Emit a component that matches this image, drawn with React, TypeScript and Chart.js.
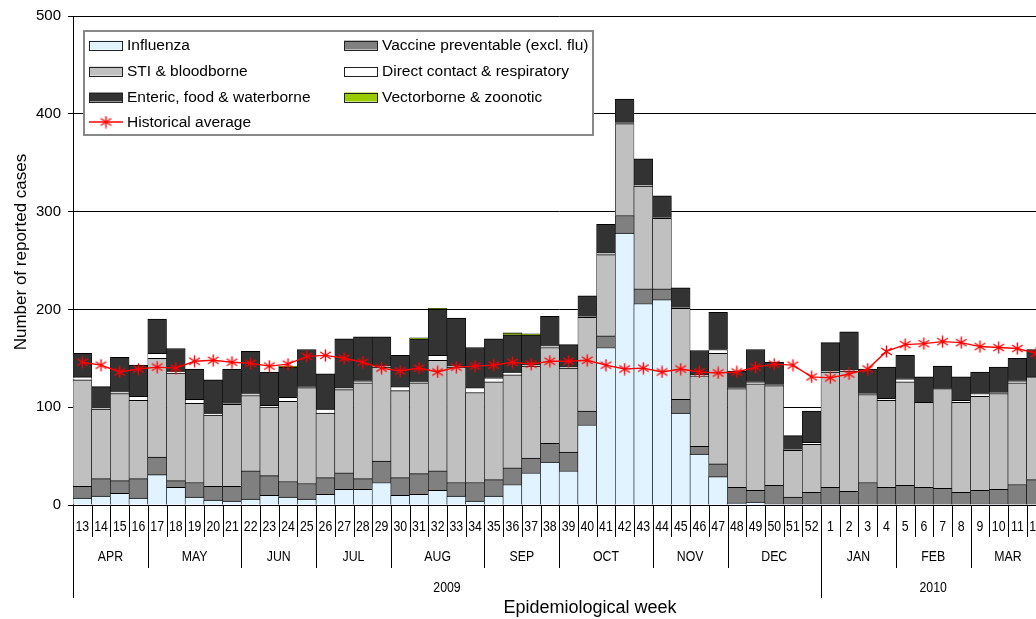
import React, { useEffect, useRef } from 'react';
import { Chart, registerables } from 'chart.js';

Chart.register(...registerables);

// ---------- data ----------
const weekLabels = [
  '13', '14', '15', '16', '17', '18', '19', '20', '21', '22', '23', '24', '25', '26', '27', '28', '29', '30',
  '31', '32', '33', '34', '35', '36', '37', '38', '39', '40', '41', '42', '43', '44', '45', '46', '47', '48',
  '49', '50', '51', '52', '1', '2', '3', '4', '5', '6', '7', '8', '9', '10', '11', '12',
];

const influenza = [
  7, 9, 12, 7, 31, 18, 8, 5, 4, 6, 10, 8, 6, 11, 16, 16, 23, 10,
  11, 15, 9, 4, 9, 21, 33, 44, 35, 82, 161, 278, 206, 210, 94, 52, 29, 2,
  3, 1, 1, 1, 1, 1, 0, 0, 0, 0, 0, 0, 1, 1, 0, 0,
];
const vaccinePreventable = [
  12, 18, 13, 20, 18, 7, 15, 14, 15, 29, 20, 16, 16, 17, 17, 11, 22, 18,
  21, 20, 14, 19, 17, 17, 15, 19, 19, 14, 12, 18, 15, 11, 14, 8, 13, 16,
  12, 19, 7, 12, 17, 13, 23, 18, 20, 18, 17, 13, 14, 15, 21, 26,
];
const stiBloodborne = [
  109, 71, 89, 80, 101, 110, 81, 73, 84, 77, 70, 82, 98, 66, 85, 98, 96, 89,
  93, 113, 118, 92, 100, 95, 94, 98, 86, 96, 83, 94, 105, 72, 93, 72, 113, 101,
  109, 102, 48, 49, 118, 123, 90, 89, 106, 87, 102, 92, 96, 98, 104, 105,
];
const directContact = [
  3, 1, 2, 4, 5, 2, 4, 2, 1, 2, 2, 4, 1, 4, 2, 2, 1, 4,
  1, 5, 1, 5, 4, 3, 1, 2, 1, 1, 2, 1, 1, 1, 1, 1, 4, 1,
  2, 1, 1, 2, 1, 1, 1, 2, 3, 0, 0, 2, 3, 1, 2, 0,
];
const enteric = [
  24, 22, 35, 32, 35, 23, 31, 34, 35, 43, 34, 31, 38, 36, 50, 45, 30, 32,
  44, 47, 49, 41, 40, 38, 31, 30, 23, 21, 29, 24, 27, 22, 20, 25, 38, 17,
  33, 23, 14, 32, 29, 39, 25, 32, 24, 26, 23, 24, 22, 26, 23, 28,
];
const vectorborne = [
  0, 0, 0, 0, 0, 0, 0, 0, 0, 0, 0, 1, 0, 0, 0, 0, 0, 0,
  1, 1, 0, 0, 0, 2, 1, 0, 0, 0, 0, 0, 0, 0, 0, 0, 0, 0,
  0, 0, 0, 0, 0, 0, 0, 0, 0, 0, 0, 0, 0, 0, 0, 0,
];
const historicalAverage = [
  146, 143, 136, 139, 141, 140, 147, 148, 146, 145, 142, 144, 152, 153, 150, 146, 140, 137,
  140, 136, 141, 142, 143, 146, 144, 147, 147, 148, 143, 139, 140, 136, 139, 136, 135, 136,
  141, 144, 143, 131, 130, 134, 139, 157, 164, 165, 167, 166, 162, 161, 160, 155,
];

const monthLabels = ['APR', 'MAY', 'JUN', 'JUL', 'AUG', 'SEP', 'OCT', 'NOV', 'DEC', 'JAN', 'FEB', 'MAR'];
const monthSpans = [4, 5, 4, 4, 5, 4, 5, 4, 5, 4, 4, 4];
const yearLabels = ['2009', '2010'];
const yearSpans = [40, 12];

const seriesNames = [
  'Influenza',
  'Vaccine preventable (excl. flu)',
  'STI & bloodborne',
  'Direct contact & respiratory',
  'Enteric, food & waterborne',
  'Vectorborne & zoonotic',
];
const seriesColors = ['#E0F3FF', '#808080', '#C0C0C0', '#FFFFFF', '#333333', '#99CC00'];
const lineName = 'Historical average';

const yAxisTitle = 'Number of reported cases';
const xAxisTitle = 'Epidemiological week';

const FONT = '"Liberation Sans", Arial, sans-serif';

function makeAsterisk(): HTMLCanvasElement {
  const c = document.createElement('canvas');
  c.width = 13;
  c.height = 13;
  const g = c.getContext('2d')!;
  g.strokeStyle = '#ff0000';
  g.lineWidth = 1.4;
  g.beginPath();
  g.moveTo(6.5, 0.5);
  g.lineTo(6.5, 12.5);
  g.moveTo(1.2, 3.0);
  g.lineTo(11.8, 10.0);
  g.moveTo(1.2, 10.0);
  g.lineTo(11.8, 3.0);
  g.stroke();
  return c;
}

const decorPlugin = {
  id: 'decor',
  afterDraw(chart: any) {
    const ctx: CanvasRenderingContext2D = chart.ctx;
    const xs = chart.scales.x;
    const area = chart.chartArea;
    const n = weekLabels.length;
    const slot = xs.getPixelForValue(1) - xs.getPixelForValue(0);
    const edge = (i: number) => xs.getPixelForValue(0) - slot / 2 + i * slot;
    const y0 = area.bottom;
    const vline = (x: number, ya: number, yb: number) => {
      const px = Math.round(x) + 0.5;
      ctx.beginPath();
      ctx.moveTo(px, ya);
      ctx.lineTo(px, yb);
      ctx.stroke();
    };

    ctx.save();
    ctx.strokeStyle = '#000';
    ctx.lineWidth = 1;
    ctx.fillStyle = '#000';

    // week separators and labels
    for (let i = 0; i <= n; i++) vline(edge(i), y0, 537);
    ctx.font = `15px ${FONT}`;
    ctx.textAlign = 'center';
    ctx.textBaseline = 'middle';
    weekLabels.forEach((lab, i) => {
      const cx = edge(i) + slot / 2;
      ctx.save();
      ctx.translate(cx, 527);
      ctx.scale(0.82, 1);
      ctx.fillText(lab, 0, 0);
      ctx.restore();
    });

    // month separators and labels
    let idx = 0;
    vline(edge(0), y0, 568);
    monthSpans.forEach((span, k) => {
      const a = edge(idx);
      const b = edge(idx + span);
      vline(b, y0, 568);
      ctx.save();
      ctx.translate((a + b) / 2, 557);
      ctx.scale(0.82, 1);
      ctx.fillText(monthLabels[k], 0, 0);
      ctx.restore();
      idx += span;
    });

    // year separators and labels
    idx = 0;
    vline(edge(0), y0, 598);
    yearSpans.forEach((span, k) => {
      const a = edge(idx);
      const b = edge(idx + span);
      vline(b, y0, 598);
      ctx.save();
      ctx.translate((a + b) / 2, 588);
      ctx.scale(0.82, 1);
      ctx.fillText(yearLabels[k], 0, 0);
      ctx.restore();
      idx += span;
    });

    // axis titles
    ctx.font = `18px ${FONT}`;
    ctx.textAlign = 'center';
    ctx.textBaseline = 'alphabetic';
    ctx.fillText(xAxisTitle, 590, 613);

    ctx.save();
    ctx.font = `17px ${FONT}`;
    ctx.translate(25.5, 252);
    ctx.rotate(-Math.PI / 2);
    ctx.fillText(yAxisTitle, 0, 0);
    ctx.restore();

    // legend
    const lx = 84, ly = 31, lw = 509, lh = 104;
    ctx.fillStyle = '#fff';
    ctx.fillRect(lx, ly, lw, lh);
    ctx.strokeStyle = '#888';
    ctx.lineWidth = 2;
    ctx.strokeRect(lx, ly, lw, lh);

    const colX = [89, 344];
    const rowY = [45, 71, 97, 122];
    ctx.font = `15.5px ${FONT}`;
    ctx.textAlign = 'left';
    ctx.textBaseline = 'middle';
    seriesNames.forEach((name, i) => {
      const cx = colX[i % 2];
      const cy = rowY[Math.floor(i / 2)];
      ctx.fillStyle = seriesColors[i];
      ctx.fillRect(cx, cy - 4.5, 34, 9);
      ctx.strokeStyle = '#222';
      ctx.lineWidth = 1;
      ctx.strokeRect(cx + 0.5, Math.round(cy - 4.5) + 0.5, 33, 9);
      ctx.fillStyle = '#000';
      ctx.fillText(name, cx + 38, cy + 1);
    });
    // historical average entry
    const hy = rowY[3];
    ctx.strokeStyle = '#ff0000';
    ctx.lineWidth = 1.4;
    ctx.beginPath();
    ctx.moveTo(colX[0], hy);
    ctx.lineTo(colX[0] + 34, hy);
    ctx.stroke();
    ctx.drawImage(asterisk, colX[0] + 17 - 6.5, hy - 6.5);
    ctx.fillStyle = '#000';
    ctx.fillText(lineName, colX[0] + 38, hy + 1);

    ctx.restore();
  },
};

let asterisk: HTMLCanvasElement;

export default function App() {
  const ref = useRef<HTMLCanvasElement | null>(null);

  useEffect(() => {
    if (!ref.current) return;
    asterisk = makeAsterisk();
    const barSeries = [influenza, vaccinePreventable, stiBloodborne, directContact, enteric, vectorborne];
    const datasets: any[] = [
      {
        type: 'line',
        label: lineName,
        data: historicalAverage,
        borderColor: '#ff0000',
        backgroundColor: '#ff0000',
        borderWidth: 1.4,
        pointStyle: asterisk,
        pointRadius: 6,
        tension: 0,
        stack: 'hist',
        order: 0,
      },
      ...barSeries.map((d, i) => ({
        type: 'bar',
        label: seriesNames[i],
        data: d,
        backgroundColor: seriesColors[i],
        borderColor: '#000',
        borderWidth: { left: 0.6, right: 0.6, top: 1, bottom: 0 },
        borderSkipped: false,
        barPercentage: 1,
        categoryPercentage: 1,
        stack: 'cases',
        order: 1,
      })),
    ];

    const canvasW = 1060;
    const plotLeft = 73;
    const plotRight = plotLeft + weekLabels.length * 18.7;

    const chart = new Chart(ref.current, {
      type: 'bar',
      data: { labels: weekLabels, datasets },
      options: {
        animation: false,
        responsive: false,
        devicePixelRatio: 1,
        layout: { padding: { left: 0, top: 16, right: canvasW - plotRight, bottom: 114 } },
        plugins: {
          legend: { display: false },
          tooltip: { enabled: false },
          title: { display: false },
        },
        scales: {
          x: { display: false, stacked: true },
          y: {
            stacked: true,
            min: 0,
            max: 500,
            ticks: {
              stepSize: 100,
              color: '#000',
              padding: 7,
              font: { family: FONT, size: 15 },
            },
            grid: { color: '#000', lineWidth: 1, tickLength: 5, drawTicks: true },
            border: { display: true, color: '#000', width: 1 },
            afterFit: (scale: any) => {
              scale.width = plotLeft;
            },
          },
        },
      },
      plugins: [decorPlugin],
    } as any);

    return () => chart.destroy();
  }, []);

  return (
    <div
      style={{
        position: 'fixed',
        left: 0,
        top: 0,
        width: 1036,
        height: 619,
        overflow: 'hidden',
        background: '#fff',
      }}
    >
      <canvas ref={ref} width={1060} height={619} style={{ display: 'block' }} />
    </div>
  );
}
